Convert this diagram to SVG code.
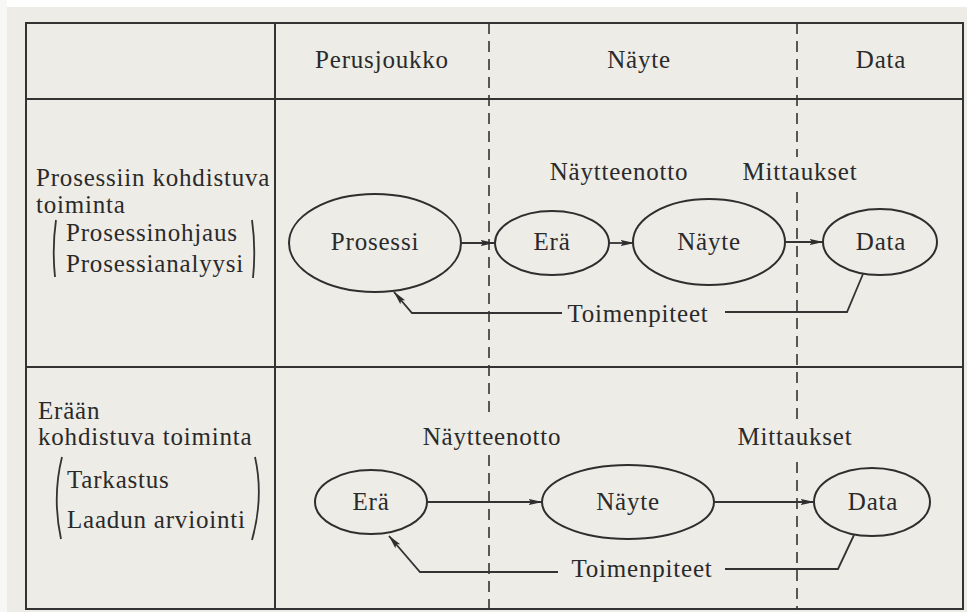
<svg xmlns="http://www.w3.org/2000/svg" width="967" height="612" viewBox="0 0 967 612">
<style>
  .bg { fill: #edece7; }
  .frame { fill: none; stroke: #333; stroke-width: 2; }
  .dash { fill: none; stroke: #333; stroke-width: 1.6; stroke-dasharray: 11 7; }
  .node { fill: none; stroke: #2e2e2e; stroke-width: 2; }
  .edge { fill: none; stroke: #333; stroke-width: 1.8; }
  .br { fill: none; stroke: #333; stroke-width: 1.8; }
  text { font-family: "Liberation Serif", "Times New Roman", serif; font-size: 25px; fill: #2a2a2a; letter-spacing: 0.8px; }
  .c { text-anchor: middle; }
</style>
<defs>
  <marker id="ah" viewBox="0 0 14 8" refX="13.5" refY="4" markerWidth="14" markerHeight="8" markerUnits="userSpaceOnUse" orient="auto">
    <path d="M0,0.8 L14,4 L0,7.2 L2.5,4 Z" fill="#2e2e2e"/>
  </marker>
</defs>
<rect class="bg" x="0" y="0" width="967" height="612"/>
<rect x="0" y="0" width="967" height="7" fill="#ffffff"/>
<rect x="0" y="0" width="7" height="612" fill="#f7f7f5"/>

<g id="table">
  <rect class="frame" x="26" y="23" width="937" height="586"/>
  <line class="frame" x1="26" y1="99" x2="963" y2="99"/>
  <line class="frame" x1="26" y1="367" x2="963" y2="367"/>
  <line class="frame" x1="275" y1="23" x2="275" y2="609"/>
  <path class="dash" d="M489,23 V415 M489,455 V609"/>
  <path class="dash" d="M797,23 V157 M797,192 V420 M797,462 V609"/>
</g>

<g id="headers">
  <text class="c" x="382" y="68">Perusjoukko</text>
  <text class="c" x="639" y="68">Näyte</text>
  <text class="c" x="881" y="68">Data</text>
</g>

<g id="row1-label">
  <text x="36" y="186">Prosessiin kohdistuva</text>
  <text x="36" y="213">toiminta</text>
  <text x="66" y="241">Prosessinohjaus</text>
  <text x="66" y="272">Prosessianalyysi</text>
  <path class="br" d="M56,220 Q52,248 55,277"/>
  <path class="br" d="M252,220 Q256,248 253,278"/>
</g>

<g id="row2-label">
  <text x="38" y="419">Erään</text>
  <text x="38" y="445">kohdistuva toiminta</text>
  <text x="67" y="488">Tarkastus</text>
  <text x="67" y="528">Laadun arviointi</text>
  <path class="br" d="M62,457 Q52,497 61,539"/>
  <path class="br" d="M255,457 Q264,497 252,540"/>
</g>

<g id="r1-prosessi">
  <ellipse class="node" cx="375" cy="243" rx="86" ry="49"/>
  <text class="c" x="375" y="250">Prosessi</text>
</g>
<g id="r1-era">
  <ellipse class="node" cx="552" cy="243" rx="57" ry="32"/>
  <text class="c" x="552" y="250">Erä</text>
</g>
<g id="r1-nayte">
  <ellipse class="node" cx="709" cy="242" rx="76" ry="43"/>
  <text class="c" x="709" y="250">Näyte</text>
</g>
<g id="r1-data">
  <ellipse class="node" cx="880" cy="242" rx="57" ry="33"/>
  <text class="c" x="881" y="250">Data</text>
</g>
<g id="r1-labels">
  <text class="c" x="619" y="180">Näytteenotto</text>
  <text class="c" x="800" y="180">Mittaukset</text>
  <text class="c" x="638" y="322">Toimenpiteet</text>
</g>

<g id="r2-era">
  <ellipse class="node" cx="371" cy="502" rx="56" ry="32"/>
  <text class="c" x="371" y="510">Erä</text>
</g>
<g id="r2-nayte">
  <ellipse class="node" cx="628" cy="502" rx="86" ry="37"/>
  <text class="c" x="628" y="510">Näyte</text>
</g>
<g id="r2-data">
  <ellipse class="node" cx="872" cy="502" rx="58" ry="34"/>
  <text class="c" x="873" y="510">Data</text>
</g>
<g id="r2-labels">
  <text class="c" x="492" y="445">Näytteenotto</text>
  <text class="c" x="795" y="445">Mittaukset</text>
  <text class="c" x="642" y="577">Toimenpiteet</text>
</g>

<g id="connectors">
  <line class="edge" x1="461" y1="243" x2="494" y2="243" marker-end="url(#ah)"/>
  <line class="edge" x1="609" y1="243" x2="634" y2="243" marker-end="url(#ah)"/>
  <line class="edge" x1="785" y1="242" x2="823" y2="242" marker-end="url(#ah)"/>
  <path class="edge" d="M863,274 L847,312 H725"/>
  <path class="edge" d="M562,313 H412 L394,292" marker-end="url(#ah)"/>

  <line class="edge" x1="427" y1="502" x2="542" y2="502" marker-end="url(#ah)"/>
  <line class="edge" x1="714" y1="502" x2="814" y2="502" marker-end="url(#ah)"/>
  <path class="edge" d="M854,535 L838,569 H725"/>
  <path class="edge" d="M558,572 H420 L389,536" marker-end="url(#ah)"/>
</g>
</svg>
